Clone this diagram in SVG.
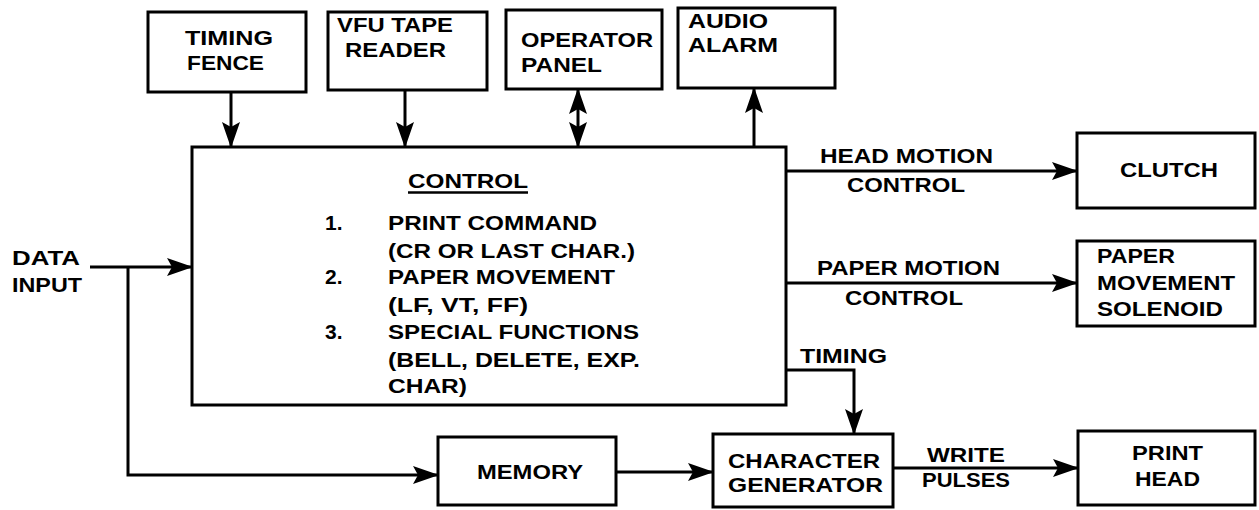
<svg xmlns="http://www.w3.org/2000/svg" width="1259" height="510" viewBox="0 0 1259 510">
<style>
.box{fill:#fff;stroke:#000;stroke-width:3}
.ln{fill:none;stroke:#000;stroke-width:3}
.arr{marker-end:url(#ah)}
text{font-family:"Liberation Sans",Arial,sans-serif;font-weight:bold;font-size:21px;fill:#000}
</style>
<defs>
<marker id="ah" markerUnits="userSpaceOnUse" markerWidth="26" markerHeight="18" refX="25" refY="9" orient="auto-start-reverse" viewBox="0 0 26 18">
<path d="M0,0 L26,9 L0,18 L5,9 z" fill="#000"/>
</marker>
</defs>
<rect width="1259" height="510" fill="#fff"/>
<g id="connectors">
<path class="ln arr" d="M231,92 V147"/>
<path class="ln arr" d="M405,90 V147"/>
<path class="ln" d="M578,89 V147" marker-start="url(#ah)" marker-end="url(#ah)"/>
<path class="ln arr" d="M754,147 V88"/>
<path class="ln arr" d="M786,171 H1077"/>
<path class="ln arr" d="M786,283 H1077"/>
<path class="ln arr" d="M786,370 H854 V434"/>
<path class="ln arr" d="M90,267 H192"/>
<path class="ln arr" d="M128,267 V475 H438"/>
<path class="ln arr" d="M616,472 H713"/>
<path class="ln arr" d="M893,468 H1078"/>
<text x="820" y="163" textLength="173" lengthAdjust="spacingAndGlyphs">HEAD MOTION</text>
<text x="847" y="192" textLength="118" lengthAdjust="spacingAndGlyphs">CONTROL</text>
<text x="817" y="275" textLength="183" lengthAdjust="spacingAndGlyphs">PAPER MOTION</text>
<text x="845" y="305" textLength="118" lengthAdjust="spacingAndGlyphs">CONTROL</text>
<text x="800" y="363" textLength="87" lengthAdjust="spacingAndGlyphs">TIMING</text>
<text x="927" y="462" textLength="78" lengthAdjust="spacingAndGlyphs">WRITE</text>
<text x="922" y="487" textLength="88" lengthAdjust="spacingAndGlyphs">PULSES</text>
<text x="12" y="265" textLength="68" lengthAdjust="spacingAndGlyphs">DATA</text>
<text x="12" y="292" textLength="70" lengthAdjust="spacingAndGlyphs">INPUT</text>
</g>
<g id="timing-fence">
<rect class="box" x="148" y="12" width="158" height="80"/>
<text x="185" y="45" textLength="88" lengthAdjust="spacingAndGlyphs">TIMING</text>
<text x="187" y="70" textLength="77" lengthAdjust="spacingAndGlyphs">FENCE</text>
</g>
<g id="vfu-tape-reader">
<rect class="box" x="328" y="12" width="159" height="78"/>
<text x="337" y="32" textLength="116" lengthAdjust="spacingAndGlyphs">VFU TAPE</text>
<text x="345" y="57" textLength="101" lengthAdjust="spacingAndGlyphs">READER</text>
</g>
<g id="operator-panel">
<rect class="box" x="506" y="10" width="156" height="79"/>
<text x="521" y="47" textLength="132" lengthAdjust="spacingAndGlyphs">OPERATOR</text>
<text x="521" y="72" textLength="81" lengthAdjust="spacingAndGlyphs">PANEL</text>
</g>
<g id="audio-alarm">
<rect class="box" x="678" y="8" width="157" height="80"/>
<text x="688" y="28" textLength="80" lengthAdjust="spacingAndGlyphs">AUDIO</text>
<text x="688" y="52" textLength="90" lengthAdjust="spacingAndGlyphs">ALARM</text>
</g>
<g id="control">
<rect class="box" x="192" y="147" width="594" height="258"/>
<text x="408" y="188" textLength="120" lengthAdjust="spacingAndGlyphs">CONTROL</text>
<line x1="408" y1="192.5" x2="528" y2="192.5" stroke="#000" stroke-width="2.5"/>
<text x="325" y="230">1.</text>
<text x="325" y="284">2.</text>
<text x="325" y="339">3.</text>
<text x="388" y="230" textLength="209" lengthAdjust="spacingAndGlyphs">PRINT COMMAND</text>
<text x="388" y="258" textLength="247" lengthAdjust="spacingAndGlyphs">(CR OR LAST CHAR.)</text>
<text x="388" y="284" textLength="227" lengthAdjust="spacingAndGlyphs">PAPER MOVEMENT</text>
<text x="388" y="312" textLength="140" lengthAdjust="spacingAndGlyphs">(LF, VT, FF)</text>
<text x="388" y="339" textLength="251" lengthAdjust="spacingAndGlyphs">SPECIAL FUNCTIONS</text>
<text x="388" y="367" textLength="252" lengthAdjust="spacingAndGlyphs">(BELL, DELETE, EXP.</text>
<text x="388" y="393" textLength="79" lengthAdjust="spacingAndGlyphs">CHAR)</text>
</g>
<g id="clutch">
<rect class="box" x="1077" y="133" width="178" height="75"/>
<text x="1120" y="177" textLength="98" lengthAdjust="spacingAndGlyphs">CLUTCH</text>
</g>
<g id="paper-movement-solenoid">
<rect class="box" x="1077" y="241" width="178" height="85"/>
<text x="1097" y="263" textLength="78" lengthAdjust="spacingAndGlyphs">PAPER</text>
<text x="1097" y="290" textLength="138" lengthAdjust="spacingAndGlyphs">MOVEMENT</text>
<text x="1097" y="316" textLength="126" lengthAdjust="spacingAndGlyphs">SOLENOID</text>
</g>
<g id="memory">
<rect class="box" x="438" y="437" width="178" height="68"/>
<text x="477" y="479" textLength="106" lengthAdjust="spacingAndGlyphs">MEMORY</text>
</g>
<g id="character-generator">
<rect class="box" x="713" y="434" width="180" height="73"/>
<text x="728" y="468" textLength="152" lengthAdjust="spacingAndGlyphs">CHARACTER</text>
<text x="728" y="492" textLength="155" lengthAdjust="spacingAndGlyphs">GENERATOR</text>
</g>
<g id="print-head">
<rect class="box" x="1078" y="431" width="177" height="74"/>
<text x="1132" y="460" textLength="71" lengthAdjust="spacingAndGlyphs">PRINT</text>
<text x="1135" y="486" textLength="65" lengthAdjust="spacingAndGlyphs">HEAD</text>
</g>
</svg>
